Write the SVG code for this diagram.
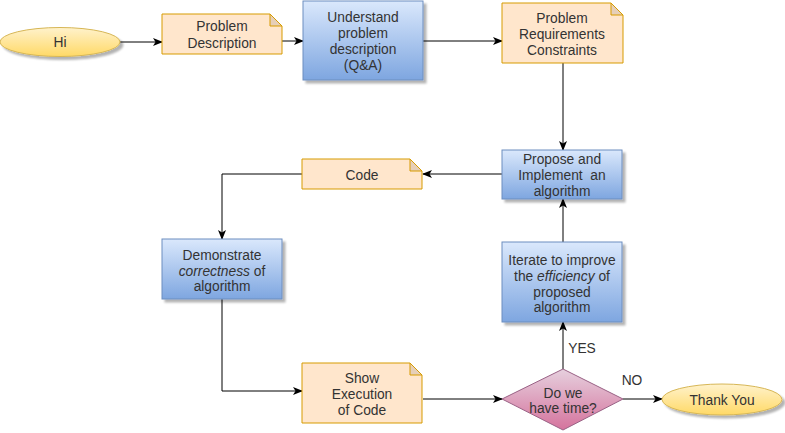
<svg xmlns="http://www.w3.org/2000/svg" width="785" height="433" viewBox="0 0 785 433">
<defs>
<linearGradient id="gBlue" x1="0" y1="0" x2="0" y2="1"><stop offset="0" stop-color="#dae8fc"/><stop offset="1" stop-color="#7ea6e0"/></linearGradient>
<linearGradient id="gYel" x1="0" y1="0" x2="0" y2="1"><stop offset="0" stop-color="#fff2cc"/><stop offset="1" stop-color="#ffd966"/></linearGradient>
<linearGradient id="gPink" x1="0" y1="0" x2="0" y2="1"><stop offset="0" stop-color="#e6d0de"/><stop offset="1" stop-color="#d5739d"/></linearGradient>
<filter id="sh" x="-10%" y="-10%" width="130%" height="140%">
<feGaussianBlur in="SourceAlpha" stdDeviation="0.8"/>
<feOffset dx="3" dy="3" result="o"/>
<feComponentTransfer><feFuncA type="linear" slope="0.3"/></feComponentTransfer>
<feMerge><feMergeNode/><feMergeNode in="SourceGraphic"/></feMerge>
</filter>
<marker id="arr" viewBox="0 0 10 8" refX="9" refY="4" markerWidth="10" markerHeight="8" markerUnits="userSpaceOnUse" orient="auto">
<path d="M0,0 L10,4 L0,8 L2.5,4 z" fill="#000"/>
</marker>
</defs>
<style>
text{font-family:"Liberation Sans",Arial,sans-serif;font-size:13.8px;fill:#333;text-anchor:middle}
.blue{fill:url(#gBlue);stroke:#6c8ebf;stroke-width:1}
.yel{fill:url(#gYel);stroke:#d6b656;stroke-width:1}
.note{fill:#ffe6cc;stroke:#d79b00;stroke-width:1}
.fold{fill:#e6cfb8;stroke:#d79b00;stroke-width:1}
.pink{fill:url(#gPink);stroke:#996185;stroke-width:1}
.edge{fill:none;stroke:#000;stroke-width:1;marker-end:url(#arr)}
</style>
<g id="connectors">
<path class="edge" d="M120,42 H162"/>
<path class="edge" d="M282,41 H303"/>
<path class="edge" d="M423,41 H502"/>
<path class="edge" d="M563,63 V150"/>
<path class="edge" d="M502,174 H423"/>
<path class="edge" d="M302,174 H222 V239"/>
<path class="edge" d="M222,299 V391 H302"/>
<path class="edge" d="M423,399 H502"/>
<path class="edge" d="M563,369 V322"/>
<path class="edge" d="M563,242 V199"/>
<path class="edge" d="M623,399 H662"/>
<text x="582" y="353">YES</text>
<text x="632" y="385">NO</text>
</g>
<g id="hi">
<ellipse class="yel" cx="60" cy="42" rx="60" ry="14.5" filter="url(#sh)"/>
<text x="60" y="47">Hi</text>
</g>
<g id="problem-description">
<path class="note" d="M162,14 H270 L282,26 V54 H162 Z"/>
<path class="fold" d="M270,14 V26 H282 Z"/>
<text x="222" y="31">Problem</text>
<text x="222" y="48">Description</text>
</g>
<g id="understand">
<rect class="blue" x="303" y="1" width="120" height="79" filter="url(#sh)"/>
<text x="363" y="21.5">Understand</text>
<text x="363" y="37.5">problem</text>
<text x="363" y="53.5">description</text>
<text x="363" y="69.5">(Q&amp;A)</text>
</g>
<g id="requirements">
<path class="note" d="M502,3 H611 L623,15 V63 H502 Z"/>
<path class="fold" d="M611,3 V15 H623 Z"/>
<text x="562" y="23">Problem</text>
<text x="562" y="39">Requirements</text>
<text x="562" y="55">Constraints</text>
</g>
<g id="propose">
<rect class="blue" x="502" y="150" width="120" height="49" filter="url(#sh)"/>
<text x="562" y="164">Propose and</text>
<text x="562" y="180" xml:space="preserve">Implement  an</text>
<text x="562" y="196">algorithm</text>
</g>
<g id="code">
<path class="note" d="M302,159 H410 L422,171 V189 H302 Z"/>
<path class="fold" d="M410,159 V171 H422 Z"/>
<text x="362" y="180">Code</text>
</g>
<g id="demonstrate">
<rect class="blue" x="162" y="239" width="120" height="60" filter="url(#sh)"/>
<text x="222" y="260">Demonstrate</text>
<text x="222" y="275.5"><tspan font-style="italic">correctness</tspan> of</text>
<text x="222" y="291">algorithm</text>
</g>
<g id="iterate">
<rect class="blue" x="502" y="242" width="120" height="80" filter="url(#sh)"/>
<text x="562" y="265">Iterate to improve</text>
<text x="562" y="281">the <tspan font-style="italic">efficiency</tspan> of</text>
<text x="562" y="296.5">proposed</text>
<text x="562" y="312">algorithm</text>
</g>
<g id="show-execution">
<path class="note" d="M302,363 H410 L422,375 V423 H302 Z"/>
<path class="fold" d="M410,363 V375 H422 Z"/>
<text x="362" y="383">Show</text>
<text x="362" y="399">Execution</text>
<text x="362" y="415">of Code</text>
</g>
<g id="decision">
<path class="pink" d="M563,369 L623,399 L563,430 L502,399 Z"/>
<text x="563" y="397.5">Do we</text>
<text x="563" y="413">have time?</text>
</g>
<g id="thank-you">
<ellipse class="yel" cx="722" cy="399.5" rx="60" ry="15.5" filter="url(#sh)"/>
<text x="722" y="405">Thank You</text>
</g>
</svg>
